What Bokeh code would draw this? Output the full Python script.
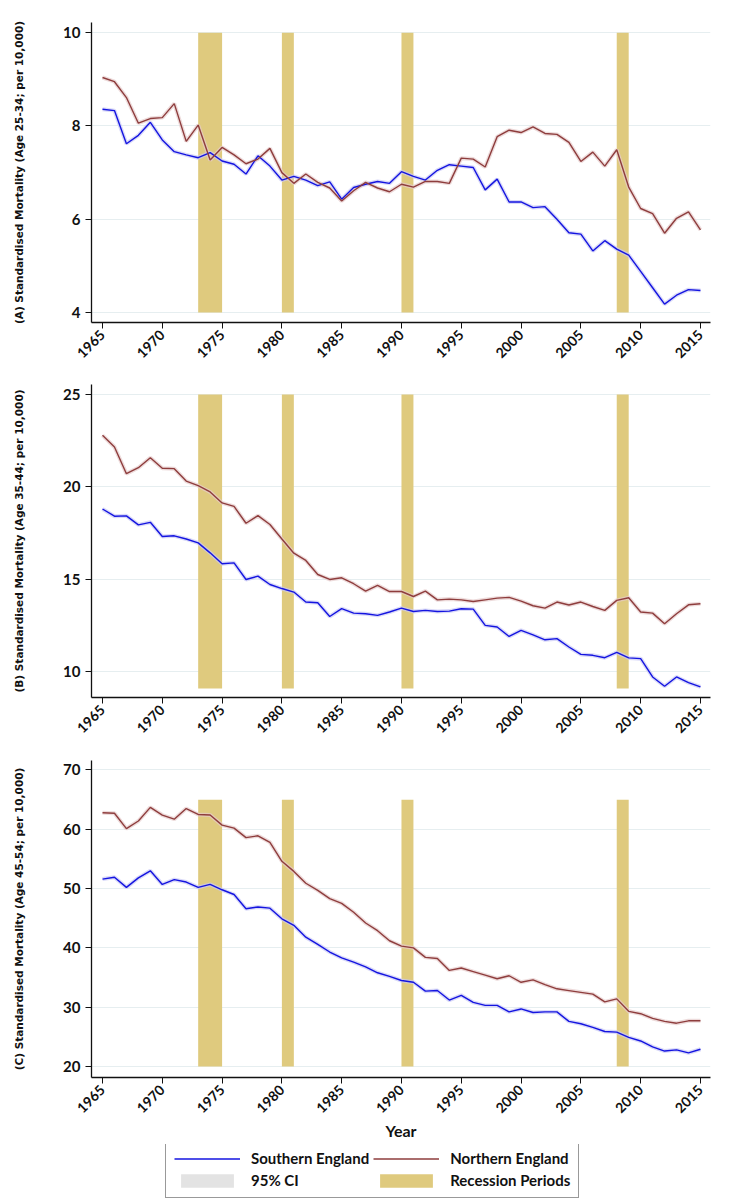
import math
from bokeh.plotting import figure
from bokeh.layouts import column
from bokeh.models import Range1d, FixedTicker, Legend, LegendItem
from bokeh.embed import file_html
from bokeh.resources import INLINE

years = list(range(1965, 2016))

south_25_34 = [8.36, 8.33, 7.62, 7.80, 8.08, 7.70, 7.45, 7.38, 7.32, 7.43, 7.25, 7.18, 6.97, 7.36, 7.14,
               6.84, 6.92, 6.84, 6.72, 6.80, 6.43, 6.68, 6.75, 6.81, 6.77, 7.02, 6.92, 6.84, 7.05, 7.17,
               7.14, 7.11, 6.63, 6.86, 6.37, 6.37, 6.25, 6.27, 6.00, 5.71, 5.68, 5.32, 5.54, 5.36, 5.23,
               4.88, 4.53, 4.18, 4.37, 4.49, 4.47]
north_25_34 = [9.04, 8.95, 8.61, 8.06, 8.16, 8.18, 8.48, 7.67, 8.02, 7.27, 7.54, 7.38, 7.19, 7.29, 7.52,
               7.00, 6.77, 6.97, 6.79, 6.67, 6.39, 6.61, 6.79, 6.67, 6.59, 6.75, 6.69, 6.81, 6.81, 6.77,
               7.31, 7.29, 7.12, 7.77, 7.91, 7.86, 7.98, 7.84, 7.82, 7.65, 7.24, 7.44, 7.14, 7.49, 6.69,
               6.23, 6.12, 5.70, 6.02, 6.16, 5.77]

south_35_44 = [18.81, 18.42, 18.44, 17.95, 18.09, 17.32, 17.36, 17.19, 16.98, 16.44, 15.85, 15.90, 15.00,
               15.18, 14.73, 14.51, 14.32, 13.78, 13.74, 13.00, 13.42, 13.18, 13.15, 13.06, 13.24, 13.45,
               13.27, 13.33, 13.27, 13.29, 13.42, 13.40, 12.52, 12.43, 11.92, 12.25, 12.01, 11.74, 11.80,
               11.35, 10.95, 10.90, 10.77, 11.06, 10.76, 10.72, 9.73, 9.23, 9.73, 9.42, 9.19]
north_35_44 = [22.79, 22.16, 20.72, 21.04, 21.58, 21.01, 20.99, 20.32, 20.07, 19.73, 19.14, 18.95, 18.04,
               18.45, 17.97, 17.19, 16.42, 16.03, 15.27, 15.00, 15.09, 14.77, 14.37, 14.68, 14.35, 14.35,
               14.08, 14.37, 13.90, 13.94, 13.90, 13.81, 13.90, 13.99, 14.03, 13.83, 13.58, 13.45, 13.78,
               13.62, 13.78, 13.54, 13.33, 13.87, 14.01, 13.24, 13.18, 12.61, 13.15, 13.63, 13.69]

south_45_54 = [51.6, 51.9, 50.2, 51.8, 53.0, 50.7, 51.5, 51.1, 50.2, 50.7, 49.8, 49.0, 46.6, 46.9, 46.7,
               44.9, 43.8, 41.8, 40.6, 39.3, 38.3, 37.6, 36.8, 35.8, 35.2, 34.5, 34.2, 32.7, 32.8, 31.2,
               32.0, 30.8, 30.3, 30.3, 29.2, 29.7, 29.1, 29.2, 29.2, 27.6, 27.2, 26.6, 25.9, 25.8, 24.9,
               24.3, 23.3, 22.6, 22.8, 22.3, 22.9]
north_45_54 = [62.8, 62.7, 60.1, 61.4, 63.7, 62.4, 61.7, 63.5, 62.5, 62.4, 60.7, 60.2, 58.6, 58.9, 57.8,
               54.6, 52.9, 50.9, 49.7, 48.3, 47.5, 46.0, 44.2, 42.9, 41.2, 40.3, 40.0, 38.4, 38.2, 36.2,
               36.6, 36.0, 35.4, 34.8, 35.3, 34.2, 34.6, 33.8, 33.1, 32.8, 32.5, 32.2, 30.9, 31.4, 29.3,
               28.9, 28.1, 27.6, 27.3, 27.7, 27.7]

rec_start = [1973, 1980, 1990, 2008]
rec_end = [1975, 1981, 1991, 2009]

x_ticks = [1965, 1970, 1975, 1980, 1985, 1990, 1995, 2000, 2005, 2010, 2015]

labels = ["(A) Standardised Mortality (Age 25-34; per 10,000)",
          "(B) Standardised Mortality (Age 35-44; per 10,000)",
          "(C) Standardised Mortality (Age 45-54; per 10,000)"]
y_ticks_a = [4, 6, 8, 10]
y_ticks_b = [10, 15, 20, 25]
y_ticks_c = [20, 30, 40, 50, 60, 70]
rec_band_a = (4, 10)
rec_band_b = (9.1, 25)
rec_band_c = (20, 65)
legend_labels = ["Southern England", "Northern England", "95% CI", "Recession Periods"]

BLUE = "#1414e0"
BROWN = "#8e3d3d"
GOLD = "#dfca7e"
CI_GREY = "#e3e3e3"
TICK_FONT = "Lato"


def make_panel(label, south, north, y_rng, yticks, band, height, b_top, b_bottom, xlabel=None):
    p = figure(width=730, height=height, output_backend="svg", toolbar_location=None,
               x_range=Range1d(1964.08, 2015.84), y_range=Range1d(*y_rng),
               min_border_left=91, min_border_right=20, min_border_top=b_top,
               min_border_bottom=b_bottom)
    p.outline_line_color = None
    p.xgrid.visible = False
    p.ygrid.grid_line_color = "#e6eef0"
    p.ygrid.grid_line_width = 1.2
    n = len(rec_start)
    p.quad(left=rec_start, right=rec_end, bottom=[band[0]] * n, top=[band[1]] * n,
           fill_color=GOLD, line_color=None)
    p.line(years, south, line_color="#c9c9f5", line_width=4, line_alpha=0.7)
    p.line(years, north, line_color="#e6cccc", line_width=4, line_alpha=0.7)
    p.line(years, south, line_color=BLUE, line_width=1.4)
    p.line(years, north, line_color=BROWN, line_width=1.4)

    p.xaxis.ticker = FixedTicker(ticks=x_ticks)
    p.yaxis.ticker = FixedTicker(ticks=yticks)
    p.xaxis.major_label_orientation = math.pi / 4
    for ax in (p.xaxis[0], p.yaxis[0]):
        ax.axis_line_width = 1.3
        ax.axis_line_color = "#111111"
        ax.major_tick_line_color = "#111111"
        ax.major_tick_out = 6
        ax.major_tick_in = 0
        ax.minor_tick_line_color = None
        ax.major_label_text_font = TICK_FONT
        ax.major_label_text_font_style = "bold"
        ax.major_label_text_color = "#111111"
    p.xaxis.major_label_text_font_size = "14px"
    p.yaxis.major_label_text_font_size = "15px"
    p.yaxis.axis_label = label
    p.yaxis.axis_label_text_font = "DejaVu Sans"
    p.yaxis.axis_label_text_font_style = "bold"
    p.yaxis.axis_label_text_font_size = "10.5px"
    p.yaxis.axis_label_text_color = "#111111"
    p.yaxis.axis_label_standoff = 35
    p.yaxis.major_label_standoff = 5
    p.xaxis.major_label_standoff = 4
    if xlabel:
        p.xaxis.axis_label = xlabel
        p.xaxis.axis_label_text_font = "Lato"
        p.xaxis.axis_label_text_font_style = "bold"
        p.xaxis.axis_label_text_font_size = "16px"
        p.xaxis.axis_label_text_color = "#111111"
        p.xaxis.axis_label_standoff = 0
    return p


pa = make_panel(labels[0], south_25_34, north_25_34, (3.785, 10.22), y_ticks_a, rec_band_a,
                376, 22, 54)
pb = make_panel(labels[1], south_35_44, north_35_44, (8.62, 25.54), y_ticks_b, rec_band_b,
                376, 8, 55)
pc = make_panel(labels[2], south_45_54, north_45_54, (18.14, 71.6), y_ticks_c, rec_band_c,
                392, 8, 67, xlabel="Year")

# legend strip: the series are drawn here off-view only to give the legend its glyphs
pl = figure(width=730, height=58, output_backend="svg", toolbar_location=None,
            x_range=Range1d(0, 1), y_range=Range1d(0, 1),
            x_axis_location=None, y_axis_location=None,
            min_border_left=0, min_border_right=0, min_border_top=0, min_border_bottom=0)
pl.grid.visible = False
pl.outline_line_color = None
n = len(rec_start)
r1 = pl.line(years, south_45_54, line_color=BLUE, line_width=1.4)
r2 = pl.line(years, north_45_54, line_color=BROWN, line_width=1.4)
r3 = pl.quad(left=rec_start, right=rec_end, bottom=[rec_band_c[0]] * n, top=[rec_band_c[1]] * n,
             fill_color=CI_GREY, line_color=None)
r4 = pl.quad(left=rec_start, right=rec_end, bottom=[rec_band_c[0]] * n, top=[rec_band_c[1]] * n,
             fill_color=GOLD, line_color=None)

# column-first fill -> rows: (Southern, Northern), (95% CI, Recession)
legend = Legend(items=[LegendItem(label=legend_labels[0], renderers=[r1]),
                       LegendItem(label=legend_labels[2], renderers=[r3]),
                       LegendItem(label=legend_labels[1], renderers=[r2]),
                       LegendItem(label=legend_labels[3], renderers=[r4])],
                ncols=2, location=(74, 4))
legend.label_text_font = "Lato"
legend.label_text_font_style = "bold"
legend.label_text_font_size = "15px"
legend.label_text_color = "#111111"
legend.glyph_width = 66
legend.glyph_height = 17
legend.label_standoff = 11
legend.spacing = 4
legend.padding = 8
legend.margin = 0
legend.border_line_color = "#333333"
legend.border_line_width = 1.5
legend.background_fill_alpha = 1.0
pl.add_layout(legend)

layout = column(pa, pb, pc, pl, spacing=0)
open("out.html", "w").write(file_html(layout, INLINE))
